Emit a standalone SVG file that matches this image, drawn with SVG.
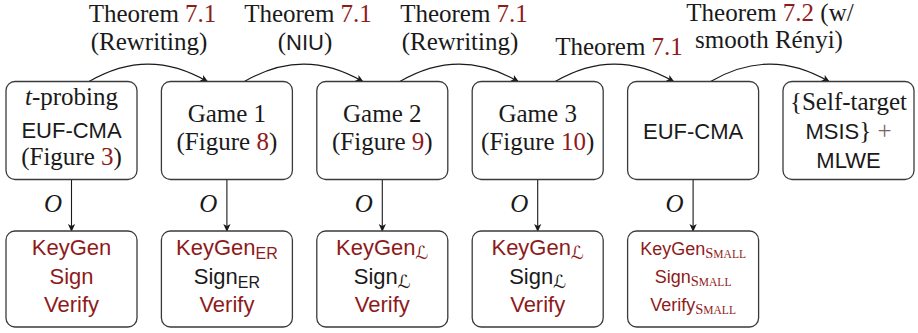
<svg xmlns="http://www.w3.org/2000/svg" width="918" height="333" viewBox="0 0 918 333">
<style>
.box{fill:#fff;stroke:#3a3a3a;stroke-width:1.3}
.serif{font-family:"Liberation Serif","Times New Roman",serif;font-size:25px;fill:#1a1a1a}
.sans{font-family:"Liberation Sans",Arial,sans-serif;font-size:22px;fill:#1a1a1a}
.sm{font-size:18px}
.red{fill:#8e1b1b}
.blk{fill:#1a1a1a}
.sub{font-family:"Liberation Sans",Arial,sans-serif;font-size:16px}
.scr{font-family:"DejaVu Serif","DejaVu Sans",serif;font-style:italic;font-size:18px}
.sc{font-family:"Liberation Serif","Times New Roman",serif}
.conn{fill:none;stroke:#1a1a1a;stroke-width:1.1}
.oo{font-family:"Liberation Serif","Times New Roman",serif;font-style:italic;font-size:25px;fill:#1a1a1a}
.plus{fill:#7a6363}
</style>
<defs>
<marker id="ah" viewBox="-9 -5 11 10" markerWidth="11" markerHeight="10" refX="0" refY="0" orient="auto" markerUnits="userSpaceOnUse">
<path d="M1,0 L-7,-3.6 L-5,0 L-7,3.6 Z" fill="#1a1a1a"/>
</marker>
</defs>

<g id="connectors">
<path class="conn" marker-end="url(#ah)" d="M89 81.5 C129.1 58.3 167.3 58.3 207.4 81.5"/>
<path class="conn" marker-end="url(#ah)" d="M244.4 81.5 C284.5 58.3 322.7 58.3 362.8 81.5"/>
<path class="conn" marker-end="url(#ah)" d="M399.8 81.5 C439.9 58.3 478.1 58.3 518.2 81.5"/>
<path class="conn" marker-end="url(#ah)" d="M555.2 81.5 C595.3 58.3 633.5 58.3 673.6 81.5"/>
<path class="conn" marker-end="url(#ah)" d="M710.6 81.5 C750.7 58.3 788.9 58.3 829 81.5"/>
<path class="conn" marker-end="url(#ah)" d="M71.5 179.5 L71.5 231"/>
<path class="conn" marker-end="url(#ah)" d="M226.9 179.5 L226.9 231"/>
<path class="conn" marker-end="url(#ah)" d="M382.3 179.5 L382.3 231"/>
<path class="conn" marker-end="url(#ah)" d="M537.7 179.5 L537.7 231"/>
<path class="conn" marker-end="url(#ah)" d="M693.1 179.5 L693.1 231"/>
<text class="oo" x="53" y="212" text-anchor="middle">O</text>
<text class="oo" x="208.4" y="212" text-anchor="middle">O</text>
<text class="oo" x="363.8" y="212" text-anchor="middle">O</text>
<text class="oo" x="519.2" y="212" text-anchor="middle">O</text>
<text class="oo" x="674.6" y="212" text-anchor="middle">O</text>
</g>

<g id="labels">
<text class="serif" x="152.5" y="22" text-anchor="middle">Theorem <tspan class="red">7.1</tspan></text>
<text class="serif" x="149" y="50" text-anchor="middle">(Rewriting)</text>
<text class="serif" x="308" y="22" text-anchor="middle">Theorem <tspan class="red">7.1</tspan></text>
<text class="serif" x="305" y="50" text-anchor="middle">(<tspan class="sans">NIU</tspan>)</text>
<text class="serif" x="464" y="22" text-anchor="middle">Theorem <tspan class="red">7.1</tspan></text>
<text class="serif" x="460" y="50" text-anchor="middle">(Rewriting)</text>
<text class="serif" x="619" y="55" text-anchor="middle">Theorem <tspan class="red">7.1</tspan></text>
<text class="serif" x="770" y="21" text-anchor="middle">Theorem <tspan class="red">7.2</tspan> (w/</text>
<text class="serif" x="769" y="48" text-anchor="middle">smooth Rényi)</text>
</g>

<g id="n1">
<rect class="box" x="6" y="81.5" width="131" height="98" rx="9"/>
<text class="serif" x="71.5" y="105" text-anchor="middle"><tspan font-style="italic">t</tspan>-probing</text>
<text class="sans" x="71.5" y="137.5" text-anchor="middle">EUF-CMA</text>
<text class="serif" x="71.5" y="165" text-anchor="middle">(Figure <tspan class="red">3</tspan>)</text>
</g>
<g id="n2">
<rect class="box" x="161.4" y="81.5" width="131" height="98" rx="9"/>
<text class="serif" x="226.9" y="122" text-anchor="middle">Game 1</text>
<text class="serif" x="226.9" y="150" text-anchor="middle">(Figure <tspan class="red">8</tspan>)</text>
</g>
<g id="n3">
<rect class="box" x="316.8" y="81.5" width="131" height="98" rx="9"/>
<text class="serif" x="382.3" y="122" text-anchor="middle">Game 2</text>
<text class="serif" x="382.3" y="150" text-anchor="middle">(Figure <tspan class="red">9</tspan>)</text>
</g>
<g id="n4">
<rect class="box" x="472.2" y="81.5" width="131" height="98" rx="9"/>
<text class="serif" x="537.7" y="122" text-anchor="middle">Game 3</text>
<text class="serif" x="537.7" y="150" text-anchor="middle">(Figure <tspan class="red">10</tspan>)</text>
</g>
<g id="n5">
<rect class="box" x="627.6" y="81.5" width="131" height="98" rx="9"/>
<text class="sans" x="693.1" y="138.5" text-anchor="middle">EUF-CMA</text>
</g>
<g id="n6">
<rect class="box" x="783" y="81.5" width="131" height="98" rx="9"/>
<text class="serif" x="848.5" y="110" text-anchor="middle">{Self-target</text>
<text class="sans" x="848.5" y="139" text-anchor="middle">MSIS<tspan class="serif">}</tspan> <tspan class="serif plus">+</tspan></text>
<text class="sans" x="848.5" y="168" text-anchor="middle">MLWE</text>
</g>

<g id="b1">
<rect class="box" x="6" y="231" width="131" height="96" rx="9"/>
<text class="sans red" x="71.5" y="255" text-anchor="middle">KeyGen</text>
<text class="sans red" x="71.5" y="283.5" text-anchor="middle">Sign</text>
<text class="sans red" x="71.5" y="311.5" text-anchor="middle">Verify</text>
</g>
<g id="b2">
<rect class="box" x="161.4" y="231" width="131" height="96" rx="9"/>
<text class="sans red" x="226.9" y="255" text-anchor="middle">KeyGen<tspan class="sub" dy="4">ER</tspan></text>
<text class="sans blk" x="226.9" y="283.5" text-anchor="middle">Sign<tspan class="sub" dy="4">ER</tspan></text>
<text class="sans red" x="226.9" y="311.5" text-anchor="middle">Verify</text>
</g>
<g id="b3">
<rect class="box" x="316.8" y="231" width="131" height="96" rx="9"/>
<text class="sans red" x="382.3" y="255" text-anchor="middle">KeyGen<tspan class="scr" dy="4">ℒ</tspan></text>
<text class="sans blk" x="382.3" y="283.5" text-anchor="middle">Sign<tspan class="scr" dy="4">ℒ</tspan></text>
<text class="sans red" x="382.3" y="311.5" text-anchor="middle">Verify</text>
</g>
<g id="b4">
<rect class="box" x="472.2" y="231" width="131" height="96" rx="9"/>
<text class="sans red" x="537.7" y="255" text-anchor="middle">KeyGen<tspan class="scr" dy="4">ℒ</tspan></text>
<text class="sans blk" x="537.7" y="283.5" text-anchor="middle">Sign<tspan class="scr" dy="4">ℒ</tspan></text>
<text class="sans red" x="537.7" y="311.5" text-anchor="middle">Verify</text>
</g>
<g id="b5">
<rect class="box" x="627.6" y="231" width="131" height="96" rx="9"/>
<text class="sans sm red" x="693.1" y="255" text-anchor="middle">KeyGen<tspan class="sc" font-size="14.5" dy="2.5">S</tspan><tspan class="sc" font-size="11.5">MALL</tspan></text>
<text class="sans sm red" x="693.1" y="283" text-anchor="middle">Sign<tspan class="sc" font-size="14.5" dy="2.5">S</tspan><tspan class="sc" font-size="11.5">MALL</tspan></text>
<text class="sans sm red" x="693.1" y="311" text-anchor="middle">Verify<tspan class="sc" font-size="14.5" dy="2.5">S</tspan><tspan class="sc" font-size="11.5">MALL</tspan></text>
</g>
</svg>
